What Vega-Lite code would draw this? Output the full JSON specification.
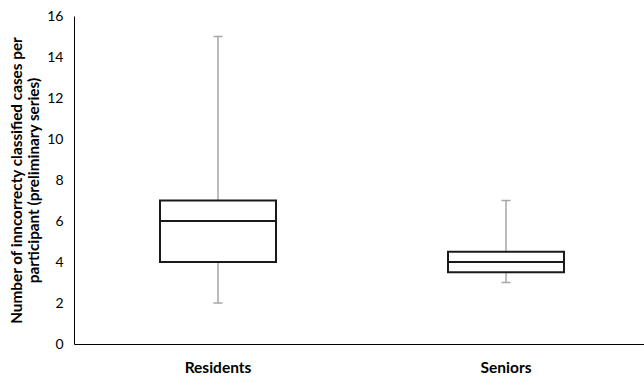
{
  "$schema": "https://vega.github.io/schema/vega-lite/v6.json",
  "width": 576,
  "height": 328,
  "autosize": {"type": "none"},
  "padding": {"left": 74, "top": 16, "right": 0, "bottom": 36},
  "background": "white",
  "config": {"view": {"stroke": null}, "font": "Lato"},
  "data": {"values": [
    {"group": "Residents", "min": 2, "q1": 4, "median": 6, "q3": 7, "max": 15},
    {"group": "Seniors", "min": 3, "q1": 3.5, "median": 4, "q3": 4.5, "max": 7}
  ]},
  "encoding": {
    "x": {"field": "group", "type": "nominal", "sort": null,
      "scale": {"paddingInner": 0, "paddingOuter": 0},
      "axis": {"title": null, "labelAngle": 0, "labelFont": "Lato", "labelFontWeight": "bold", "labelFontSize": 15.5, "labelColor": "#000", "ticks": false, "labelPadding": 16, "domainColor": "#000", "domainWidth": 1}}
  },
  "layer": [
    {"mark": {"type": "rule", "color": "#a6a6a6", "strokeWidth": 1.5},
     "encoding": {"y": {"field": "min", "type": "quantitative"}, "y2": {"field": "max"}}},
    {"mark": {"type": "tick", "color": "#a6a6a6", "opacity": 1, "thickness": 1.5, "size": 9, "orient": "horizontal"},
     "encoding": {"y": {"field": "min", "type": "quantitative"}}},
    {"mark": {"type": "tick", "color": "#a6a6a6", "opacity": 1, "thickness": 1.5, "size": 9, "orient": "horizontal"},
     "encoding": {"y": {"field": "max", "type": "quantitative"}}},
    {"mark": {"type": "bar", "size": 116, "fill": "white", "stroke": "#1a1a1a", "strokeWidth": 2, "opacity": 1},
     "encoding": {
       "y": {"field": "q1", "type": "quantitative",
         "scale": {"domain": [0, 16], "nice": false},
         "axis": {"values": [0, 2, 4, 6, 8, 10, 12, 14, 16], "grid": false, "ticks": false, "labelPadding": 11,
           "labelFontSize": 14, "labelColor": "#000", "labelFont": "Lato", "domainColor": "#000", "domainWidth": 1,
           "title": ["Number of inncorrecty classified cases per", "participant (preliminary series)"],
           "titleFont": "Lato", "titleFontSize": 15.3, "titleFontWeight": "bold", "titleColor": "#000", "titlePadding": 5, "titleLineHeight": 17,
           "titleAlign": "center", "titleAnchor": "middle", "titleLimit": 1000}},
       "y2": {"field": "q3"}}},
    {"mark": {"type": "tick", "color": "#1a1a1a", "opacity": 1, "thickness": 2, "size": 116, "orient": "horizontal"},
     "encoding": {"y": {"field": "median", "type": "quantitative"}}}
  ]
}
